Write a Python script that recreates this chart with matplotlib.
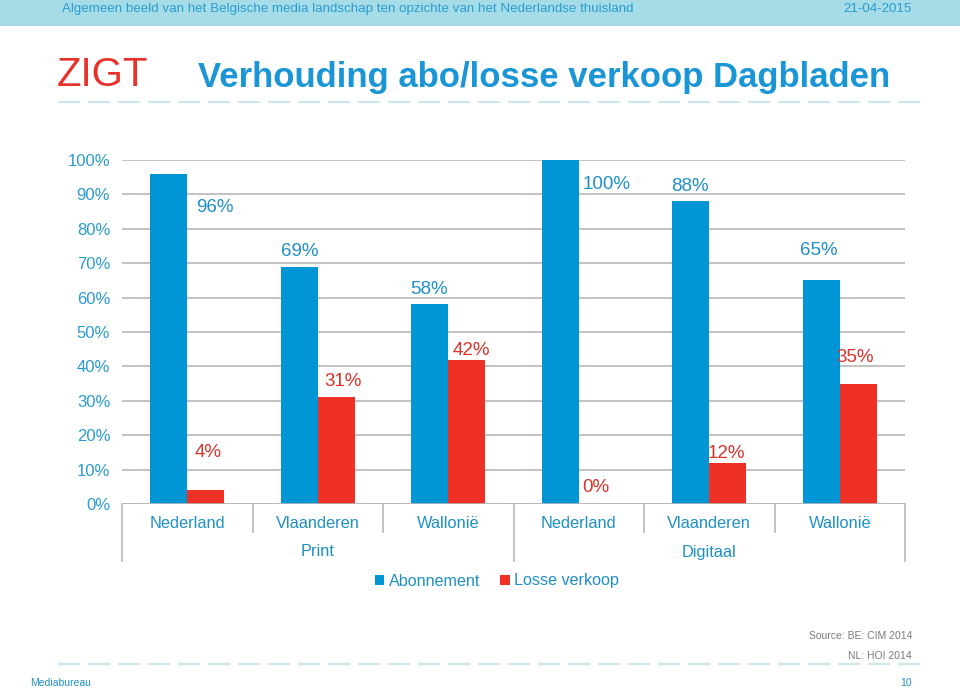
import matplotlib
matplotlib.use("Agg")
import matplotlib.pyplot as plt
from matplotlib.patches import Rectangle
from matplotlib.lines import Line2D
import numpy as np

plt.rcParams['font.family'] = ['Liberation Sans', 'DejaVu Sans']

# ---------------- data ----------------
regions = ["Nederland", "Vlaanderen", "Wallonië", "Nederland", "Vlaanderen", "Wallonië"]
groups = ["Print", "Digitaal"]
abonnement = [96, 69, 58, 100, 88, 65]
losse_verkoop = [4, 31, 42, 0, 12, 35]
series_names = ["Abonnement", "Losse verkoop"]
yticks = [0, 10, 20, 30, 40, 50, 60, 70, 80, 90, 100]

title = "Verhouding abo/losse verkoop Dagbladen"
header = "Algemeen beeld van het Belgische media landschap ten opzichte van het Nederlandse thuisland"
date = "21-04-2015"

# label layout (offset from category centre, y position in data units)
abo_lbl_pos = [(0.21, 86.3), (-0.14, 73.5), (-0.15, 62.5), (0.21, 93.0), (-0.15, 92.4), (-0.16, 73.8)]
lv_lbl_pos = [(0.16, 15.1), (0.19, 35.5), (0.18, 44.5), (0.13, 4.7), (0.13, 14.8), (0.12, 42.7)]

BLUE = "#0096d6"
RED = "#ee3124"
TXT = "#1f8fc6"
GRID = "#b8b8b8"

W, H = 960, 692
fig = plt.figure(figsize=(W / 100, H / 100), dpi=100)

def fx(px):
    return px / W

def fy(py):
    return 1 - py / H

# header band
fig.patches.append(Rectangle((0, fy(26)), 1, 26 / H, transform=fig.transFigure,
                             facecolor="#a6dce7", edgecolor="none", zorder=0))
fig.text(fx(62), fy(9), header, color="#2a9dd0", fontsize=9.6, va="center", ha="left")
fig.text(fx(912), fy(9), date, color="#2a9dd0", fontsize=9.6, va="center", ha="right")

# logo + title
fig.text(fx(57), fy(75), "ZIGT", color="#e8312a", fontsize=29, va="center", ha="left",
         fontweight="light")
fig.text(fx(198), fy(78), title, color="#1a96d6", fontsize=25, va="center", ha="left",
         fontweight="bold")

# dashed separators
for yy in (102, 664):
    fig.add_artist(Line2D([fx(58), fx(921)], [fy(yy), fy(yy)], transform=fig.transFigure,
                          color="#cfe6ec", lw=1.6, dashes=(10, 3.5)))

# ---------------- chart ----------------
left, right, top, bottom = 122, 905, 160, 504
ax = fig.add_axes([fx(left), fy(bottom), fx(right - left), (bottom - top) / H])
x = np.arange(len(regions))
bw = 0.285
ax.bar(x - bw / 2, abonnement, width=bw, color=BLUE, zorder=3, label=series_names[0])
ax.bar(x + bw / 2, losse_verkoop, width=bw, color=RED, zorder=3, label=series_names[1])

ax.set_xlim(-0.5, len(regions) - 0.5)
ax.set_ylim(0, 100)
ax.set_yticks(yticks)
ax.set_yticklabels([f"{v}%" for v in yticks], color="#2b9bd0", fontsize=12)
ax.tick_params(axis="y", length=0, pad=8.5)
ax.set_xticks([])
ax.yaxis.grid(True, color=GRID, lw=1.2, zorder=0)
for s in ax.spines.values():
    s.set_visible(False)
ax.axhline(0, color=GRID, lw=1.2, zorder=4)

for i, v in enumerate(abonnement):
    dx, yy = abo_lbl_pos[i]
    ax.text(i + dx, yy, f"{v}%", color=TXT, fontsize=13.5, ha="center", va="center")
for i, v in enumerate(losse_verkoop):
    dx, yy = lv_lbl_pos[i]
    ax.text(i + dx, yy, f"{v}%", color="#d9332a", fontsize=13.5, ha="center", va="center")

# category axis labels
trans = ax.get_xaxis_transform()
def ay(py):
    return (bottom - py) / (bottom - top)

for i, r in enumerate(regions):
    ax.text(i, ay(523), r, transform=trans, color=TXT, fontsize=11.8, ha="center", va="center",
            clip_on=False)
n_per = len(regions) // len(groups)
for g, name in enumerate(groups):
    ax.text(g * n_per + (n_per - 1) / 2, ay(552), name, transform=trans, color=TXT,
            fontsize=11.8, ha="center", va="center", clip_on=False)
for k in range(len(regions) + 1):
    xpos = k - 0.5
    low = ay(561) if k % n_per == 0 else ay(532)
    ax.add_line(Line2D([xpos, xpos], [0, low], transform=trans, color=GRID, lw=1.2,
                       clip_on=False))

leg = ax.legend(loc="center", bbox_to_anchor=(0.479, ay(581)), ncol=2, frameon=False,
                fontsize=11.6, handlelength=0.6, handleheight=0.6, handletextpad=0.3,
                columnspacing=1.2, borderaxespad=0)
for t in leg.get_texts():
    t.set_color(TXT)

# footer
fig.text(fx(912), fy(636), "Source: BE: CIM 2014", color="#7a7a7a", fontsize=7.5, ha="right",
         va="center")
fig.text(fx(912), fy(656), "NL: HOI 2014", color="#7a7a7a", fontsize=7.5, ha="right",
         va="center")
fig.text(fx(30), fy(683), "Mediabureau", color="#1f8fc6", fontsize=7.5, ha="left", va="center")
fig.text(fx(912), fy(683), "10", color="#1f8fc6", fontsize=7.5, ha="right", va="center")

fig.savefig("out.png", dpi=100)
